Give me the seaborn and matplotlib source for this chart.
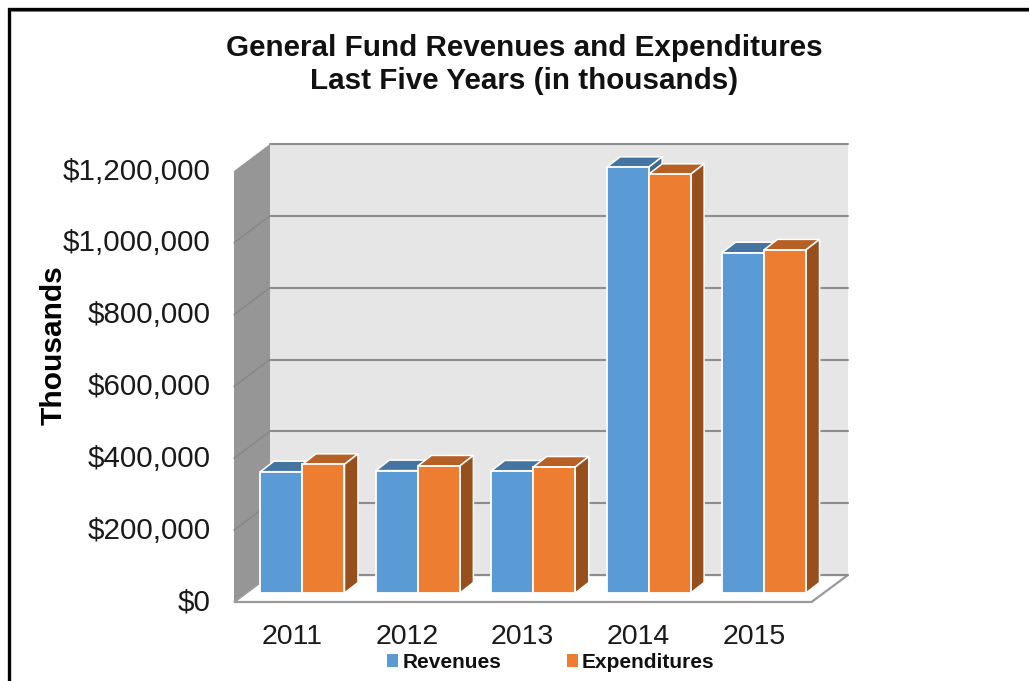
import matplotlib
matplotlib.use("Agg")
import matplotlib.pyplot as plt
import pandas as pd
import seaborn as sns
from matplotlib.patches import Polygon, Patch

years = ["2011", "2012", "2013", "2014", "2015"]
revenues = [338000, 341000, 340000, 1186000, 948000]
expenditures = [358500, 354000, 351000, 1166500, 956000]
series_names = ["Revenues", "Expenditures"]
y_ticks = [0, 200000, 400000, 600000, 800000, 1000000, 1200000]
title = "General Fund Revenues and Expenditures\nLast Five Years (in thousands)"
y_label = "Thousands"

FRONT = {"Revenues": "#5B9BD5", "Expenditures": "#ED7D31"}
TOP = {"Revenues": "#44749F", "Expenditures": "#B66026"}
SIDE = {"Revenues": "#3E6A92", "Expenditures": "#97501D"}

W, H = 1029, 681
sns.set_theme(style="white")
plt.rcParams["font.family"] = ["Liberation Sans", "DejaVu Sans"]
fig = plt.figure(figsize=(W / 100, H / 100), dpi=100, facecolor="white")


def px_axes(x0, x1, y_top, y_bottom, **kw):
    return fig.add_axes([x0 / W, 1 - y_bottom / H, (x1 - x0) / W, (y_bottom - y_top) / H], **kw)


# Pixel-space layer for the chart frame, left wall and floor
deco = px_axes(0, W, 0, H, zorder=0)
deco.set_xlim(0, W)
deco.set_ylim(H, 0)
deco.axis("off")
deco.plot([8.5, 8.5, W + 5], [H + 5, 8.5, 8.5], color="black", lw=2.4, clip_on=False,
          solid_joinstyle="miter")
deco.plot([10.5, W + 5], [10.5, 10.5], color="#777777", lw=0.7)
deco.add_patch(Polygon([(234, 171), (270, 144), (270, 575), (234, 602)], fc="#969696", ec="none"))
deco.add_patch(Polygon([(234, 602), (270, 575), (848, 575), (811.5, 602)], fc="white", ec="#9A9A9A", lw=1.6))

# Back wall
back = px_axes(270, 848, 144, 575, zorder=1)
back.set_facecolor("#E6E6E6")
back.set_xlim(0, 1)
back.set_ylim(0, 1200000)
back.set_yticks(y_ticks)
back.set_xticks([])
back.tick_params(left=False, labelleft=False)
back.grid(axis="y", color="#8E8E8E", lw=1.5)
for gl in back.get_ygridlines():
    gl.set_clip_on(False)
for s in back.spines.values():
    s.set_visible(False)
for tick in y_ticks[1:-1]:
    yy = H - back.transData.transform((0, tick))[1]
    deco.plot([234, 270], [yy + 27, yy], color="#868686", lw=1.0)

# Front plane: value and category labels
front = px_axes(234, 811.5, 168.5, 599.5, zorder=2)
front.patch.set_alpha(0)
front.set_xlim(-0.5, 4.5)
front.set_ylim(0, 1200000)
front.set_yticks(y_ticks)
front.set_yticklabels([f"${v:,}" for v in y_ticks], fontsize=21.3, color="#1a1a1a")
front.set_xticks(range(len(years)))
front.set_xticklabels(years, fontsize=20.5, color="#1a1a1a")
front.tick_params(axis="y", length=0, pad=17)
front.tick_params(axis="x", length=0, pad=17.5)
for s in front.spines.values():
    s.set_visible(False)
front.set_ylabel(y_label, fontsize=21.5, fontweight="bold", color="black")
front.yaxis.set_label_coords(68 / W, 1 - 345 / H, transform=fig.transFigure)

# Bars
ax = px_axes(244.8, 821.7, 162.3, 593, zorder=3)
ax.patch.set_alpha(0)
df = pd.DataFrame({
    "year": years * 2,
    "series": [series_names[0]] * 5 + [series_names[1]] * 5,
    "value": revenues + expenditures,
})
sns.barplot(data=df, x="year", y="value", hue="series", hue_order=series_names,
            palette=FRONT, width=0.728, gap=0, saturation=1, legend=False,
            edgecolor="white", linewidth=1.3, ax=ax, zorder=3)
ax.set_xlim(-0.5, 4.5)
ax.set_ylim(0, 1200000)
ax.set_xlabel("")
ax.set_ylabel("")
ax.set_yticks([])
ax.tick_params(axis="x", length=0, labelbottom=False)
for s in ax.spines.values():
    s.set_visible(False)

# Depth faces offset from each bar's front rectangle
dx = 13.5 / (821.7 - 244.8) * 5
dy = 10.5 / (593 - 162.3) * 1200000
for i, (name, container) in enumerate(zip(series_names, ax.containers)):
    for bar in container:
        x0, w, h = bar.get_x(), bar.get_width(), bar.get_height()
        x1 = x0 + w
        bar.set_zorder(3 + 2 * i + 1)
        ax.add_patch(Polygon([(x0, h), (x1, h), (x1 + dx, h + dy), (x0 + dx, h + dy)],
                             fc=TOP[name], ec="white", lw=1.1, zorder=3 + 2 * i, clip_on=False))
        ax.add_patch(Polygon([(x1, 0), (x1 + dx, dy), (x1 + dx, h + dy), (x1, h)],
                             fc=SIDE[name], ec="white", lw=1.1, zorder=3 + 2 * i, clip_on=False))

fig.text(524.5 / W, 1 - 64.5 / H, title, ha="center", va="center", fontsize=21.3,
         fontweight="bold", color="#111111", linespacing=1.22)

handles = [Patch(fc=FRONT[n], ec="none") for n in series_names]
fig.legend(handles, series_names, loc="center", bbox_to_anchor=(551 / W, 1 - 662.5 / H),
           ncol=2, frameon=False, prop={"weight": "bold", "size": 15},
           handlelength=0.53, handleheight=0.53, handletextpad=0.2, columnspacing=3.14,
           borderpad=0, labelcolor="#111111")

fig.savefig("out.png", dpi=100)
